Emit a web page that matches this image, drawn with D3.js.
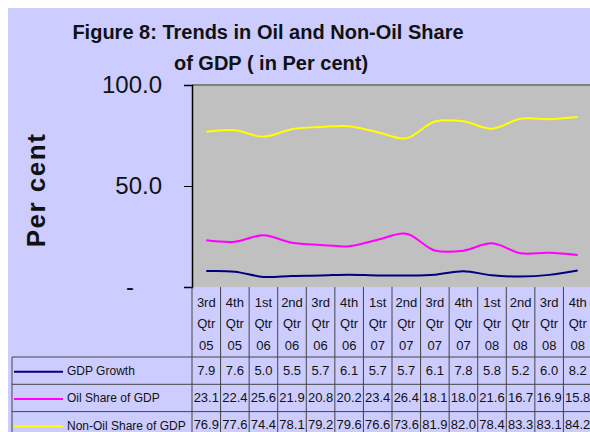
<!DOCTYPE html>
<html>
<head>
<meta charset="utf-8">
<script src="https://cdn.jsdelivr.net/npm/d3@7"></script>
<style>
body { margin: 0; background: #fff; }
svg text { font-family: "Liberation Sans", Arial, sans-serif; }
</style>
</head>
<body>
<svg id="chart" width="590" height="432"></svg>
<script>
// quarters (3 lines of header text)
var qtrNames = ["3rd", "4th", "1st", "2nd", "3rd", "4th", "1st", "2nd", "3rd", "4th", "1st", "2nd", "3rd", "4th"];
var qtrYears = ["05", "05", "06", "06", "06", "06", "07", "07", "07", "07", "08", "08", "08", "08"];

var gdpGrowth = [7.9, 7.6, 5.0, 5.5, 5.7, 6.1, 5.7, 5.7, 6.1, 7.8, 5.8, 5.2, 6.0, 8.2];
var oilShare = [23.1, 22.4, 25.6, 21.9, 20.8, 20.2, 23.4, 26.4, 18.1, 18.0, 21.6, 16.7, 16.9, 15.8];
var nonOilShare = [76.9, 77.6, 74.4, 78.1, 79.2, 79.6, 76.6, 73.6, 81.9, 82.0, 78.4, 83.3, 83.1, 84.2];

var seriesNames = ["GDP Growth", "Oil Share of GDP", "Non-Oil Share of GDP"];
var seriesColors = ["#000080", "#ff00ff", "#ffff00"];
var yTicks = [0, 50, 100];

var series = [gdpGrowth, oilShare, nonOilShare];

var margin = {left: 192, top: 85, right: 592, bottom: 287};

var svg = d3.select("#chart");

// lavender background
svg.append("rect")
    .attr("x", 8).attr("y", 8)
    .attr("width", 600).attr("height", 440)
    .attr("fill", "#ccccff");

// title
var title = svg.append("text")
    .attr("text-anchor", "middle")
    .attr("font-weight", "bold")
    .attr("font-size", 20)
    .attr("fill", "#111");
title.append("tspan").attr("x", 268).attr("y", 39).text("Figure 8: Trends in Oil and Non-Oil Share");
title.append("tspan").attr("x", 271).attr("y", 70).text("of GDP ( in Per cent)");

var xScale = d3.scaleBand()
    .domain(d3.range(qtrNames.length))
    .range([margin.left, margin.right]);

var yScale = d3.scaleLinear()
    .domain([0, 100])
    .range([margin.bottom, margin.top]);

// plot area
svg.append("rect")
    .attr("x", margin.left).attr("y", margin.top)
    .attr("width", margin.right - margin.left)
    .attr("height", margin.bottom - margin.top)
    .attr("fill", "#c0c0c0");
svg.append("line")
    .attr("x1", margin.left).attr("x2", margin.right)
    .attr("y1", margin.top).attr("y2", margin.top)
    .attr("stroke", "#808080").attr("stroke-width", 2);

// y axis
var yAxisG = svg.append("g")
    .attr("transform", "translate(" + margin.left + ",0)")
    .call(d3.axisLeft(yScale)
        .tickValues(yTicks)
        .tickSize(8)
        .tickFormat(function (d) { return d === 0 ? "-" : d.toFixed(1); }));
yAxisG.select(".domain").attr("stroke", "#000").attr("stroke-width", 1.5);
yAxisG.selectAll(".tick line").attr("stroke", "#000");
yAxisG.selectAll(".tick text")
    .attr("font-family", "Liberation Sans, Arial, sans-serif")
    .attr("font-size", 24)
    .attr("fill", "#111")
    .attr("x", -30)
    .filter(function (d) { return d === 0; })
    .attr("x", -58);

// y axis title
svg.append("text")
    .attr("transform", "translate(45,190) rotate(-90)")
    .attr("text-anchor", "middle")
    .attr("font-weight", "bold")
    .attr("font-size", 26)
    .attr("letter-spacing", 1.5)
    .attr("fill", "#111")
    .text("Per cent");

// lines
var line = d3.line()
    .x(function (d, i) { return xScale(i) + xScale.bandwidth() / 2; })
    .y(function (d) { return yScale(d); })
    .curve(d3.curveCatmullRom);

svg.selectAll(".series")
    .data(series)
    .enter()
    .append("path")
    .attr("class", "series")
    .attr("d", line)
    .attr("fill", "none")
    .attr("stroke", function (d, i) { return seriesColors[i]; })
    .attr("stroke-width", 2);

// data table
var tableTop = margin.bottom;
var headerBottom = 357;
var rowH = 27.3;
var gridColor = "#444";

var grid = svg.append("g").attr("stroke", gridColor).attr("stroke-width", 1);

// column lines
d3.range(qtrNames.length + 1).forEach(function (i) {
    var x = i < qtrNames.length ? xScale(i) : margin.right;
    grid.append("line")
        .attr("x1", x).attr("x2", x)
        .attr("y1", tableTop).attr("y2", 440);
});
// row lines
[0, 1, 2, 3].forEach(function (r) {
    grid.append("line")
        .attr("x1", 12).attr("x2", margin.right)
        .attr("y1", headerBottom + r * rowH).attr("y2", headerBottom + r * rowH);
});
grid.append("line")
    .attr("x1", 12).attr("x2", 12)
    .attr("y1", headerBottom).attr("y2", 440);

// header text
var header = svg.append("g")
    .attr("font-size", 13)
    .attr("fill", "#111")
    .attr("text-anchor", "middle");
qtrNames.forEach(function (q, i) {
    var cx = xScale(i) + xScale.bandwidth() / 2;
    header.append("text").attr("x", cx).attr("y", 307).text(q);
    header.append("text").attr("x", cx).attr("y", 328).text("Qtr");
    header.append("text").attr("x", cx).attr("y", 350).text(qtrYears[i]);
});

// data rows
series.forEach(function (vals, r) {
    var cy = headerBottom + r * rowH + rowH / 2;
    svg.append("line")
        .attr("x1", 14).attr("x2", 63)
        .attr("y1", cy + 1).attr("y2", cy + 1)
        .attr("stroke", seriesColors[r])
        .attr("stroke-width", 2);
    svg.append("text")
        .attr("x", 67).attr("y", cy + 4.5)
        .attr("font-size", 12)
        .attr("fill", "#111")
        .text(seriesNames[r]);
    vals.forEach(function (v, i) {
        svg.append("text")
            .attr("x", xScale(i) + xScale.bandwidth() / 2)
            .attr("y", cy + 4)
            .attr("text-anchor", "middle")
            .attr("font-size", 13)
            .attr("fill", "#111")
            .text(v.toFixed(1));
    });
});
</script>
</body>
</html>
